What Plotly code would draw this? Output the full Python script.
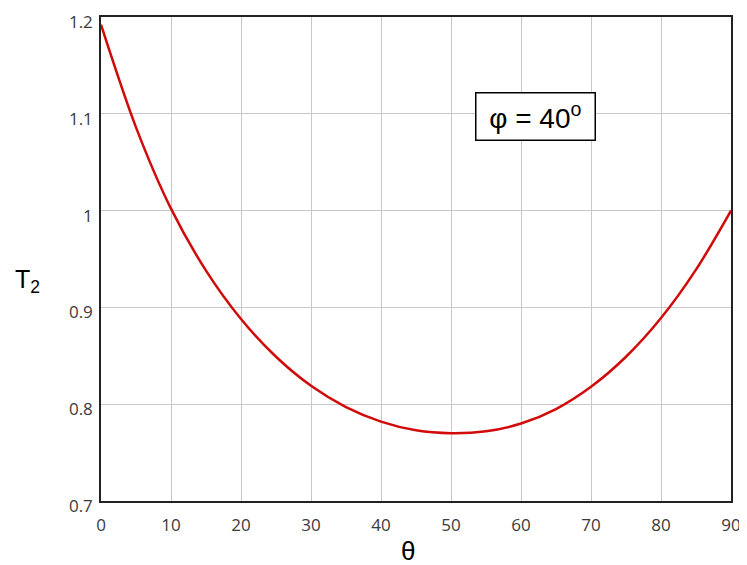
import plotly.graph_objects as go

theta = [0, 5, 10, 15, 20, 25, 30, 35, 40, 45, 50, 55, 60, 65, 70, 75, 80, 85, 90]
t2 = [1.192, 1.086, 1.002, 0.938, 0.888, 0.849, 0.819, 0.797, 0.782, 0.773, 0.770,
      0.772, 0.780, 0.795, 0.818, 0.849, 0.889, 0.939, 1.000]

x_ticks = [0, 10, 20, 30, 40, 50, 60, 70, 80, 90]
y_ticks = [0.7, 0.8, 0.9, 1.0, 1.1, 1.2]
y_labels = ["0.7", "0.8", "0.9", "1", "1.1", "1.2"]

fig = go.Figure()
fig.add_trace(go.Scatter(x=theta, y=t2, mode="lines",
                         line=dict(color="#d10a0a", width=2.5, shape="spline", smoothing=0.9),
                         showlegend=False, hoverinfo="skip"))

axis_common = dict(showline=True, linecolor="#222", linewidth=1.5, mirror=True,
                   showgrid=True, gridcolor="#c8c8c8", gridwidth=1, zeroline=False,
                   ticks="", ticklabeloverflow="allow", automargin=False,
                   tickfont=dict(family="Open Sans", size=17, color="#3a3a3a"))

fig.update_xaxes(range=[0, 90], tickvals=x_ticks, ticklabelstandoff=8, **axis_common)
fig.update_yaxes(range=[0.7, 1.2], tickvals=y_ticks, ticktext=y_labels, ticklabelstandoff=3,
                 ticklabelshift=5, **axis_common)

fig.add_annotation(x=0.487, xref="paper", y=-0.103, yref="paper", yanchor="middle",
                   text="θ", showarrow=False, font=dict(family="Liberation Sans", size=26, color="#000"))
fig.add_annotation(x=-0.14, xref="paper", y=0.455, yref="paper", yanchor="middle",
                   text="T<sub>2</sub>", showarrow=False, font=dict(family="Liberation Sans", size=25, color="#000"))
fig.add_annotation(x=62.1, y=1.097, text="&nbsp;φ = 40<sup>o</sup>&nbsp;", showarrow=False,
                   font=dict(family="Liberation Sans", size=28, color="#000"),
                   bordercolor="#000", borderwidth=1.5, borderpad=5, bgcolor="white")

fig.update_layout(width=740, height=557, margin=dict(l=93, r=17, t=9, b=64, autoexpand=False),
                  plot_bgcolor="white", paper_bgcolor="white")

fig.write_html("out.html")
